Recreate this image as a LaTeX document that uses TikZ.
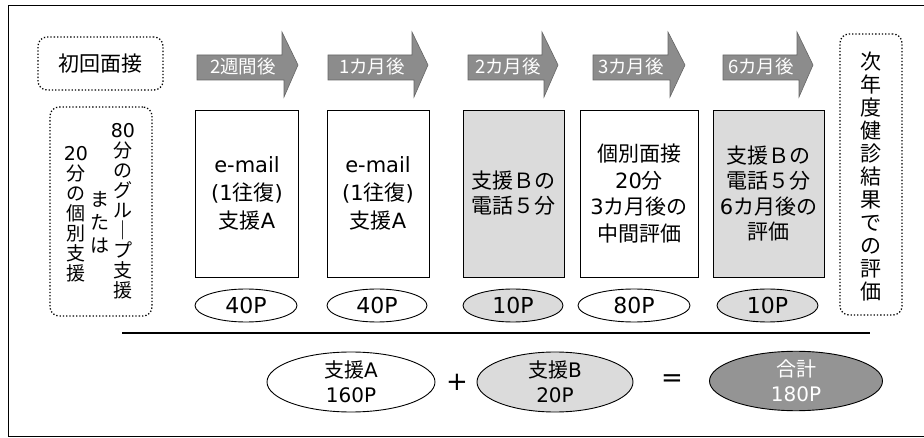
\documentclass[tikz,border=0pt]{standalone}
\usepackage{fontspec}
\setmainfont{Noto Sans CJK JP}
\newfontfamily\lat{DejaVu Sans}
\usetikzlibrary{shapes.geometric}
\definecolor{stip}{gray}{0.86}
\definecolor{arrowgray}{gray}{0.55}
\definecolor{darkstip}{gray}{0.58}
\tikzset{
  dotbox/.style={draw, dotted, line width=1.3pt, rounded corners=9pt},
  stepbox/.style={draw, line width=0.9pt, align=center, inner sep=0pt,
    minimum height=167pt, font=\fontsize{21}{28}\selectfont},
  pill/.style={draw, ellipse, line width=0.9pt, inner sep=0pt, minimum height=33pt,
    font=\fontsize{22}{24}\selectfont\lat},
  bigpill/.style={draw, ellipse, line width=0.9pt, inner sep=0pt, minimum height=60pt,
    align=center, font=\fontsize{20}{25}\selectfont},
  arrowshape/.style={fill=arrowgray, draw=black!60, line width=0.6pt},
  arrowlbl/.style={text=white, inner sep=0pt, font=\fontsize{18.5}{20}\selectfont},
  vtext/.style={align=center, inner sep=0pt},
  light/.style={fill=stip},
}
\begin{document}
\begin{tikzpicture}[x=1pt,y=-1pt]
\useasboundingbox (0,0) rectangle (924,438);
% outer frame (open at right)
\draw[line width=0.9pt] (924,5) -- (8,5) -- (8,436) -- (924,436);

% first interview
\node[dotbox, minimum width=125pt, minimum height=53pt, font=\fontsize{21}{24}\selectfont] (init) at (100.5,63.5) {初回面接};
\node[dotbox, minimum width=102pt, minimum height=209pt] (grp) at (101,211.5) {};
\node[vtext, font=\fontsize{19}{20}\selectfont] (grpR) at (123,211) {{\lat 80}\\分\\の\\グ\\ル\\｜\\プ\\支\\援};
\node[vtext, font=\fontsize{19}{23}\selectfont] (grpM) at (100,222) {ま\\た\\は};
\node[vtext, font=\fontsize{19}{20}\selectfont] (grpL) at (76,214) {{\lat 20}\\分\\の\\個\\別\\支\\援};

% arrows
\path[arrowshape] (197,55) -- (282,55) -- (282,32) -- (298,65) -- (284,97) -- (284,80) -- (197,80) -- cycle;
\node[arrowlbl] (a1) at (243,67) {2週間後};
\path[arrowshape] (328,55) -- (412,55) -- (412,32) -- (428,65) -- (414,97) -- (414,80) -- (328,80) -- cycle;
\node[arrowlbl] (a2) at (372,67) {1カ月後};
\path[arrowshape] (468,55) -- (542,55) -- (542,32) -- (558,65) -- (544,97) -- (544,80) -- (468,80) -- cycle;
\node[arrowlbl] (a3) at (508,67) {2カ月後};
\path[arrowshape] (593,55) -- (668,55) -- (668,32) -- (685,65) -- (670,97) -- (670,80) -- (593,80) -- cycle;
\node[arrowlbl] (a4) at (631,67) {3カ月後};
\path[arrowshape] (723,55) -- (797,55) -- (797,32) -- (813,65) -- (799,97) -- (799,80) -- (723,80) -- cycle;
\node[arrowlbl] (a5) at (761,67) {6カ月後};

% step boxes
\node[stepbox, minimum width=103pt] (b1) at (247,193.5) {{\lat e-mail}\\{\lat (1}往復{\lat )}\\支援{\lat A}};
\node[stepbox, minimum width=102pt] (b2) at (378,193.5) {{\lat e-mail}\\{\lat (1}往復{\lat )}\\支援{\lat A}};
\node[stepbox, light, minimum width=101pt, font=\fontsize{21}{25}\selectfont] (b3) at (513.5,193.5) {支援Ｂの\\電話５分};
\node[stepbox, minimum width=118pt, font=\fontsize{21}{26.5}\selectfont] (b4) at (639,193.5) {個別面接\\{\lat 20}分\\{\lat 3}カ月後の\\中間評価};
\node[stepbox, light, minimum width=111pt, font=\fontsize{21}{25.5}\selectfont] (b5) at (768.5,193.5) {支援Ｂの\\電話５分\\{\lat 6}カ月後の\\評価};

% final evaluation
\node[dotbox, minimum width=62pt, minimum height=281pt] (eval) at (871,174.5) {};
\node[vtext, font=\fontsize{21}{23}\selectfont] (evalT) at (871,177) {次\\年\\度\\健\\診\\結\\果\\で\\の\\評\\価};

% points
\node[pill, minimum width=102pt] (p1) at (246,305.5) {40P};
\node[pill, minimum width=100pt] (p2) at (377,305.5) {40P};
\node[pill, light, minimum width=100pt] (p3) at (513,305.5) {10P};
\node[pill, minimum width=112pt] (p4) at (634,305.5) {80P};
\node[pill, light, minimum width=101pt] (p5) at (767.5,305.5) {10P};

% separator line
\coordinate (sepL) at (122,333);
\coordinate (sepR) at (870,333);
\draw[line width=1.1pt] (sepL) -- (sepR);

% totals
\node[bigpill, minimum width=168pt] (sA) at (351,382) {支援{\lat A}\\{\lat 160P}};
\node[font=\fontsize{26}{26}\selectfont\lat, inner sep=0pt] (plus) at (457,382) {+};
\node[bigpill, light, minimum width=156pt] (sB) at (555,382) {支援{\lat B}\\{\lat 20P}};
\node[font=\fontsize{26}{26}\selectfont\lat, inner sep=0pt] (eq) at (672,381) {=};
\node[bigpill, fill=darkstip, text=white, minimum width=173pt, minimum height=58pt] (tot) at (796,381) {合計\\{\lat 180P}};
\end{tikzpicture}
\end{document}
